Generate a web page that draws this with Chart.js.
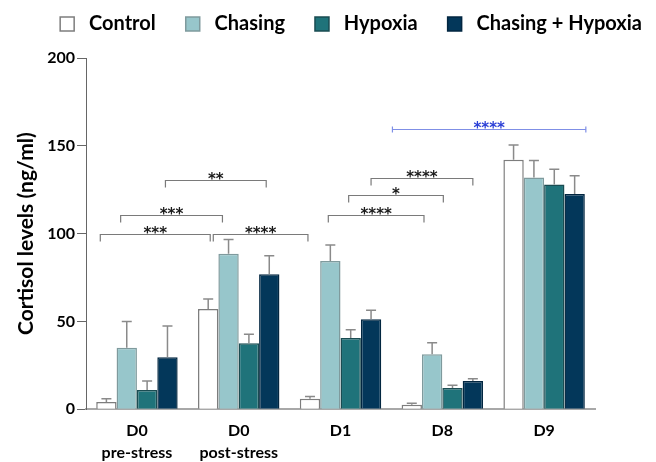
<!DOCTYPE html>
<html>
<head>
<meta charset="utf-8">
<script src="https://cdn.jsdelivr.net/npm/chart.js@4"></script>
<style>
  html, body { margin: 0; padding: 0; background: #fff; }
  #wrap { width: 656px; height: 462px; }
</style>
</head>
<body>
<div id="wrap"><canvas id="chart"></canvas></div>
<script>
// values (mean and upper SEM)
const categories = [['D0', 'pre-stress'], ['D0', 'post-stress'], 'D1', 'D8', 'D9'];
const seriesNames = ['Control', 'Chasing', 'Hypoxia', 'Chasing + Hypoxia'];
const control = [4.1, 57, 6, 2.6, 142];
const controlErr = [1.9, 5.7, 1.2, 0.8, 8.5];
const chasing = [35, 88.5, 84.4, 31.3, 132];
const chasingErr = [15, 8.2, 9.1, 6.5, 9.6];
const hypoxia = [11, 37.6, 40.6, 12.1, 127.9];
const hypoxiaErr = [5, 5.1, 4.7, 1.5, 8.8];
const chasingHypoxia = [29.6, 76.9, 51.2, 16, 122.5];
const chasingHypoxiaErr = [17.8, 10.5, 5.1, 1.4, 10.5];
const yTicks = [0, 50, 100, 150, 200];

// significance brackets: from / to (in category units), height, label
const brackets = [
    { from: -0.36, to: 0.72, y: 99.5, label: '***' },
    { from: -0.16, to: 0.84, y: 110.5, label: '***' },
    { from: 0.28, to: 1.27, y: 130.7, label: '**' },
    { from: 0.75, to: 1.68, y: 99.5, label: '****' },
    { from: 1.88, to: 2.82, y: 110.5, label: '****' },
    { from: 2.08, to: 3.01, y: 122, label: '*' },
    { from: 2.30, to: 3.30, y: 131.7, label: '****' },
    { from: 2.51, to: 4.41, y: 159.4, label: '****', blue: true },
];

const FONT = 'Lato, "Open Sans", sans-serif';

const errorBars = {
    id: 'errorBars',
    afterDatasetsDraw(chart) {
        const ctx = chart.ctx;
        const y = chart.scales.y;
        ctx.save();
        ctx.strokeStyle = '#8a8a8a';
        ctx.lineWidth = 1.5;
        chart.data.datasets.forEach((ds, i) => {
            const meta = chart.getDatasetMeta(i);
            meta.data.forEach((bar, j) => {
                const top = y.getPixelForValue(ds.data[j] + ds.err[j]);
                const base = y.getPixelForValue(ds.data[j]);
                ctx.beginPath();
                ctx.moveTo(bar.x, base);
                ctx.lineTo(bar.x, top);
                ctx.moveTo(bar.x - 5, top);
                ctx.lineTo(bar.x + 5, top);
                ctx.stroke();
            });
        });
        ctx.restore();
    }
};

const sigBrackets = {
    id: 'sigBrackets',
    afterDraw(chart) {
        const ctx = chart.ctx;
        const { x, y } = chart.scales;
        const x0 = x.getPixelForValue(0);
        const step = x.getPixelForValue(1) - x0;
        ctx.save();
        brackets.forEach(b => {
            const x1 = x0 + b.from * step;
            const x2 = x0 + b.to * step;
            const py = Math.round(y.getPixelForValue(b.y)) + 0.5;
            ctx.lineWidth = 1.2;
            ctx.beginPath();
            if (b.blue) {
                ctx.strokeStyle = '#7f8fe6';
                ctx.moveTo(x1, py); ctx.lineTo(x2, py);
                ctx.moveTo(x1, py - 3); ctx.lineTo(x1, py + 3);
                ctx.moveTo(x2, py - 3); ctx.lineTo(x2, py + 3);
            } else {
                ctx.strokeStyle = '#7a7a7a';
                ctx.moveTo(x1, py + 7); ctx.lineTo(x1, py);
                ctx.lineTo(x2, py); ctx.lineTo(x2, py + 7);
            }
            ctx.stroke();
            ctx.fillStyle = b.blue ? '#2b3fd6' : '#1a1a1a';
            ctx.font = 'bold 15px "DejaVu Sans"';
            ctx.textAlign = 'center';
            ctx.textBaseline = 'alphabetic';
            ctx.fillText(b.label, (x1 + x2) / 2, py + 3);
        });
        ctx.restore();
    }
};

// empty axes only used to reserve margins
const spacer = (position, size) => ({
    type: 'linear',
    position,
    display: true,
    grid: { display: false, drawTicks: false },
    border: { display: false },
    ticks: { display: false },
    afterFit(scale) {
        if (position === 'top') scale.height = size; else scale.width = size;
    },
});

new Chart(document.getElementById('chart'), {
    type: 'bar',
    data: {
        labels: categories,
        datasets: [
            { label: seriesNames[0], data: control, err: controlErr,
              backgroundColor: '#ffffff', borderColor: '#7d7d7d', borderWidth: 1.5 },
            { label: seriesNames[1], data: chasing, err: chasingErr,
              backgroundColor: '#97c6cb', borderColor: '#7f9a9d', borderWidth: 1.5 },
            { label: seriesNames[2], data: hypoxia, err: hypoxiaErr,
              backgroundColor: '#1f737a', borderColor: '#1a4c52', borderWidth: 1.5 },
            { label: seriesNames[3], data: chasingHypoxia, err: chasingHypoxiaErr,
              backgroundColor: '#03375a', borderColor: '#022640', borderWidth: 1.5 },
        ],
    },
    options: {
        responsive: true,
        maintainAspectRatio: false,
        animation: false,
        categoryPercentage: 0.8,
        barPercentage: 1.0,
        layout: { padding: { left: 14, right: -16, top: -16, bottom: -12 } },
        plugins: {
            legend: {
                position: 'top',
                align: 'end',
                labels: {
                    boxWidth: 14,
                    boxHeight: 14,
                    padding: 30,
                    color: '#000',
                    font: { family: FONT, size: 20, weight: 'bold' },
                    generateLabels(chart) {
                        const items = Chart.defaults.plugins.legend.labels.generateLabels(chart);
                        items.forEach(it => { it.text = ' ' + it.text; });
                        return items;
                    },
                },
            },
            tooltip: { enabled: false },
        },
        scales: {
            x: {
                grid: { display: false, drawTicks: false },
                border: { color: '#a8a8a8', width: 2 },
                ticks: {
                    color: '#000',
                    padding: 10,
                    font: { family: FONT, size: 16, weight: 'bold', lineHeight: 1.4 },
                },
            },
            y: {
                min: 0,
                max: 200,
                afterBuildTicks(scale) { scale.ticks = yTicks.map(v => ({ value: v })); },
                grid: { drawOnChartArea: false, drawTicks: true, tickLength: 9, color: '#666' },
                border: { color: '#666', width: 1 },
                ticks: {
                    color: '#000',
                    padding: 2,
                    font: { family: FONT, size: 16, weight: 'bold' },
                },
                title: {
                    display: true,
                    text: 'Cortisol levels (ng/ml)',
                    color: '#000',
                    padding: { top: 0, bottom: 6 },
                    font: { family: FONT, size: 21, weight: 'bold' },
                },
            },
            padRight: spacer('right', 77),
            padTop: spacer('top', 14),
        },
    },
    plugins: [errorBars, sigBrackets],
});
</script>
</body>
</html>
